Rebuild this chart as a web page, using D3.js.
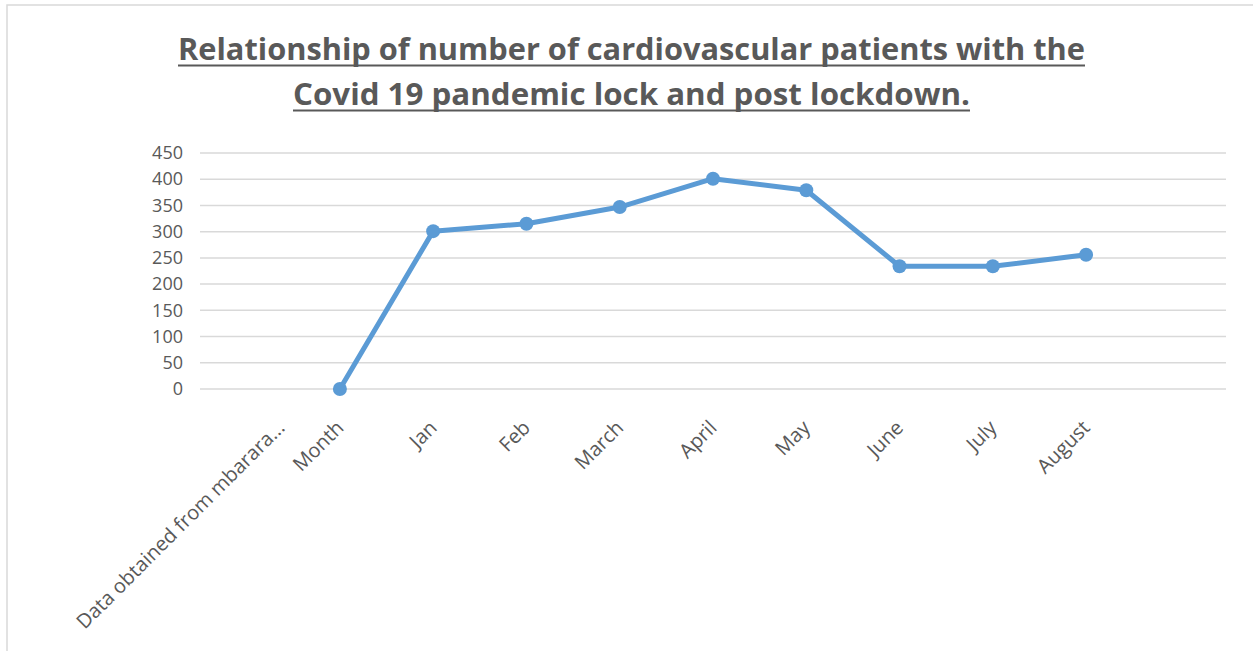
<!DOCTYPE html>
<html>
<head>
<meta charset="utf-8">
<script src="https://cdn.jsdelivr.net/npm/d3@7"></script>
<style>
  html, body { margin: 0; padding: 0; background: #fff; }
  svg { display: block; }
</style>
</head>
<body>
<svg id="chart" width="1253" height="651"></svg>
<script>
// Category labels along the x axis (the last slot is left blank)
const categories = ["Data obtained from mbarara...", "Month", "Jan", "Feb", "March", "April", "May", "June", "July", "August", ""];
// Patients per category; null where no value is recorded
const patients = [null, 0, 301, 315, 347, 401, 379, 234, 234, 256, null];
// Y axis ticks
const yTicks = [0, 50, 100, 150, 200, 250, 300, 350, 400, 450];
const titleLines = [
  "Relationship of number of cardiovascular patients with the",
  "Covid 19 pandemic lock and post lockdown."
];

const svg = d3.select("#chart");
const W = 1253, H = 651;
const margin = { left: 200, right: 27, top: 153, bottom: 262 };
const plotW = W - margin.left - margin.right;
const plotH = H - margin.top - margin.bottom;
// Rotated labels are nudged right so they keep clear of the frame
const labelMinLeft = 70;

// Chart frame
svg.append("path")
  .attr("d", `M7,${H} L7,5 L${W},5`)
  .attr("fill", "none")
  .attr("stroke", "#d9d9d9")
  .attr("stroke-width", 1.5);

const x = d3.scaleBand().domain(d3.range(categories.length)).range([margin.left, margin.left + plotW]);
const y = d3.scaleLinear().domain([0, 450]).range([margin.top + plotH, margin.top]);

// Title: bold, underlined, two lines
const titleG = svg.append("g");
const titleWidths = [907, 677];
const titleY = [59.5, 104.5];
titleLines.forEach((t, i) => {
  titleG.append("text")
    .attr("x", 631.5)
    .attr("y", titleY[i])
    .attr("text-anchor", "middle")
    .attr("font-family", "'Open Sans', 'Liberation Sans', sans-serif")
    .attr("font-weight", "bold")
    .attr("font-size", 30)
    .attr("fill", "#595959")
    .attr("textLength", titleWidths[i])
    .attr("lengthAdjust", "spacingAndGlyphs")
    .text(t);
  titleG.append("line")
    .attr("x1", 631.5 - titleWidths[i] / 2)
    .attr("x2", 631.5 + titleWidths[i] / 2)
    .attr("y1", titleY[i] + 6)
    .attr("y2", titleY[i] + 6)
    .attr("stroke", "#595959")
    .attr("stroke-width", 2);
});

// Gridlines
svg.append("g")
  .selectAll("line")
  .data(yTicks)
  .join("line")
  .attr("x1", margin.left)
  .attr("x2", margin.left + plotW)
  .attr("y1", d => y(d))
  .attr("y2", d => y(d))
  .attr("stroke", "#d9d9d9")
  .attr("stroke-width", 1.5);

// Y axis labels
const yAxis = svg.append("g")
  .attr("transform", `translate(${margin.left - 14},0)`)
  .call(d3.axisLeft(y).tickValues(yTicks).tickSize(0).tickPadding(3));
yAxis.select(".domain").remove();
yAxis.selectAll("text")
  .attr("font-family", "'Open Sans', 'Liberation Sans', sans-serif")
  .attr("font-size", 18)
  .attr("fill", "#595959");

// X axis labels, rotated
const xAxis = svg.append("g")
  .attr("transform", `translate(0,${margin.top + plotH})`)
  .call(d3.axisBottom(x).tickFormat(i => categories[i]).tickSize(0).tickPadding(0));
xAxis.select(".domain").remove();
xAxis.selectAll("text")
  .attr("font-family", "'Open Sans', 'Liberation Sans', sans-serif")
  .attr("font-size", 20)
  .attr("fill", "#595959")
  .attr("text-anchor", "end")
  .attr("dy", "0")
  .attr("transform", "translate(5,40) rotate(-45)")
  .each(function () {
    const left = this.getBoundingClientRect().left;
    if (left < labelMinLeft) {
      d3.select(this).attr("transform", `translate(${5 + labelMinLeft - left},40) rotate(-45)`);
    }
  });

// Series line and markers
const pts = patients.map((v, i) => ({ i, v })).filter(d => d.v !== null);
const line = d3.line()
  .x(d => x(d.i) + x.bandwidth() / 2)
  .y(d => y(d.v));

svg.append("path")
  .datum(pts)
  .attr("d", line)
  .attr("fill", "none")
  .attr("stroke", "#5b9bd5")
  .attr("stroke-width", 5)
  .attr("stroke-linejoin", "round");

svg.append("g")
  .selectAll("circle")
  .data(pts)
  .join("circle")
  .attr("cx", d => x(d.i) + x.bandwidth() / 2)
  .attr("cy", d => y(d.v))
  .attr("r", 7)
  .attr("fill", "#5b9bd5");
</script>
</body>
</html>
